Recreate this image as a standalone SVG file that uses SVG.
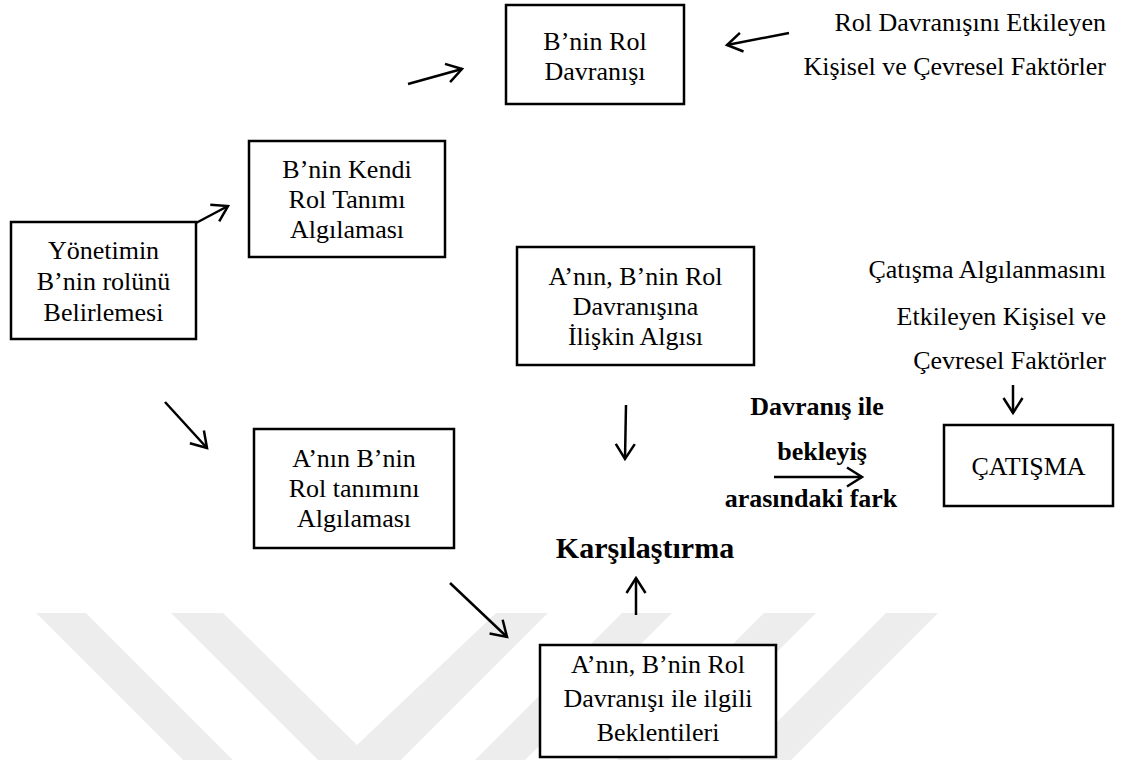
<svg xmlns="http://www.w3.org/2000/svg" width="1124" height="760" viewBox="0 0 1124 760">
<style>
.box{fill:#fff;stroke:#000;stroke-width:2.5}
.t{font-family:"Liberation Serif","Times New Roman",serif;font-size:26px;fill:#000;text-anchor:middle}
.r{text-anchor:end}
.b{font-weight:bold}
.ar{fill:none;stroke:#000;stroke-width:2.5;marker-end:url(#ah)}
.wm{fill:#ededed}
</style>
<defs>
<marker id="ah" viewBox="0 0 20 20" markerWidth="20" markerHeight="20" refX="18" refY="10" orient="auto" markerUnits="userSpaceOnUse" overflow="visible">
<path d="M3,0.5 L18,10 L3,19.5" fill="none" stroke="#000" stroke-width="2.5" stroke-linejoin="miter"/>
</marker>
</defs>
<rect width="1124" height="760" fill="#fff"/>
<g id="watermark">
<polygon class="wm" points="36,613 86,613 233,760 183,760"/>
<polygon class="wm" points="171,613 223,613 357,745 496,613 548,613 401,760 318,760"/>
<polygon class="wm" points="622,613 672,613 525,760 475,760"/>
<polygon class="wm" points="764,613 816,613 669,760 617,760"/>
<polygon class="wm" points="886,613 938,613 791,760 739,760"/>
</g>
<g id="connectors">
<line class="ar" x1="408" y1="84" x2="462" y2="69"/>
<line class="ar" x1="789" y1="33" x2="727" y2="45"/>
<line class="ar" x1="196" y1="223" x2="228" y2="206"/>
<line class="ar" x1="165" y1="402" x2="207" y2="448"/>
<line class="ar" x1="450" y1="583" x2="507" y2="637"/>
<line class="ar" x1="626" y1="405" x2="625" y2="459"/>
<line class="ar" x1="636" y1="615" x2="636" y2="578"/>
<line class="ar" x1="774" y1="477" x2="862" y2="477"/>
<line class="ar" x1="1013" y1="385" x2="1013" y2="413"/>
</g>
<g id="n-b-rol-davranisi">
<rect class="box" x="506" y="5" width="178" height="99"/>
<text class="t" x="595" y="50">B’nin Rol</text>
<text class="t" x="595" y="80">Davranışı</text>
</g>
<g id="n-b-kendi">
<rect class="box" x="249" y="141" width="196" height="116"/>
<text class="t" x="347" y="178">B’nin Kendi</text>
<text class="t" x="347" y="208">Rol Tanımı</text>
<text class="t" x="347" y="238">Algılaması</text>
</g>
<g id="n-yonetim">
<rect class="box" x="11" y="222" width="185" height="117"/>
<text class="t" x="103.5" y="259">Yönetimin</text>
<text class="t" x="103.5" y="290">B’nin rolünü</text>
<text class="t" x="103.5" y="321">Belirlemesi</text>
</g>
<g id="n-a-algisi">
<rect class="box" x="517" y="247" width="237" height="118"/>
<text class="t" x="635.5" y="285">A’nın, B’nin Rol</text>
<text class="t" x="635.5" y="315">Davranışına</text>
<text class="t" x="635.5" y="345">İlişkin Algısı</text>
</g>
<g id="n-a-rol-tanimi">
<rect class="box" x="254" y="429" width="200" height="119"/>
<text class="t" x="354" y="467">A’nın B’nin</text>
<text class="t" x="354" y="497">Rol tanımını</text>
<text class="t" x="354" y="527">Algılaması</text>
</g>
<g id="n-beklentiler">
<rect class="box" x="540" y="645" width="236" height="112"/>
<text class="t" x="658" y="673">A’nın, B’nin Rol</text>
<text class="t" x="658" y="707">Davranışı ile ilgili</text>
<text class="t" x="658" y="741">Beklentileri</text>
</g>
<g id="n-catisma">
<rect class="box" x="944" y="425" width="169" height="81"/>
<text class="t" x="1028.5" y="475">ÇATIŞMA</text>
</g>
<g id="n-rol-faktorler">
<text class="t r" x="1106" y="31">Rol Davranışını Etkileyen</text>
<text class="t r" x="1106" y="75">Kişisel ve Çevresel Faktörler</text>
</g>
<g id="n-catisma-faktorler">
<text class="t r" x="1106" y="278">Çatışma Algılanmasını</text>
<text class="t r" x="1106" y="325">Etkileyen Kişisel ve</text>
<text class="t r" x="1106" y="369">Çevresel Faktörler</text>
</g>
<g id="n-fark">
<text class="t b" x="817" y="415">Davranış ile</text>
<text class="t b" x="822" y="460">bekleyiş</text>
<text class="t b" x="811" y="507">arasındaki fark</text>
</g>
<g id="n-karsilastirma">
<text class="t b" x="645" y="558" style="font-size:30px">Karşılaştırma</text>
</g>
</svg>
